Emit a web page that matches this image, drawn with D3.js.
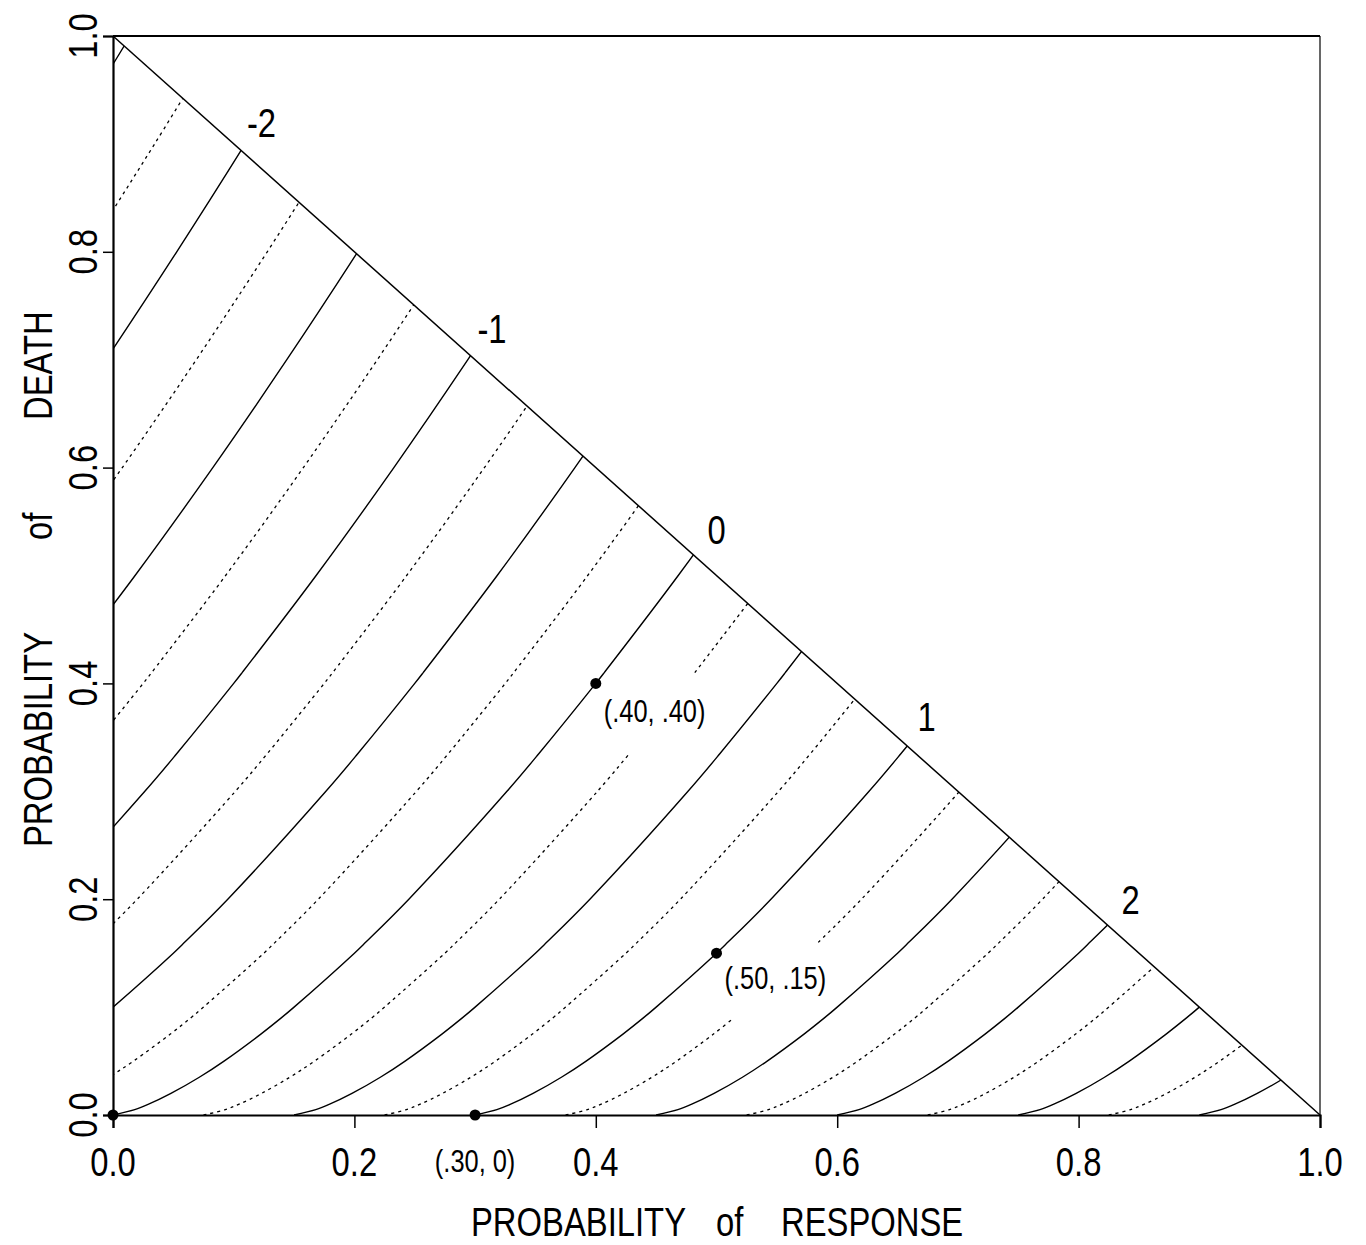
<!DOCTYPE html>
<html>
<head>
<meta charset="utf-8">
<script src="https://cdn.jsdelivr.net/npm/d3@7"></script>
<style>
  body { margin: 0; background: #fff; }
  svg { display: block; }
  text { font-family: "Liberation Sans", Arial, sans-serif; fill: #000; }
</style>
</head>
<body>
<svg width="1366" height="1245"></svg>
<script>
// every contour has the same shape, shifted sideways:
// at death prob shapeDeath[i] it sits shapeShift[i] to the right of where it meets pD = 0
var shapeDeath = [0, 0.005, 0.01, 0.02, 0.035, 0.05, 0.075, 0.09, 0.1, 0.15, 0.16, 0.2,
  0.3, 0.335, 0.4, 0.41, 0.5, 0.6, 0.7, 0.8, 0.9, 1.0];
var shapeShift = [0, 0.018, 0.0295, 0.048, 0.0715, 0.092, 0.1225, 0.1394, 0.150, 0.200, 0.2093, 0.2451,
  0.3264, 0.3529, 0.400, 0.407, 0.4683, 0.5327, 0.594, 0.6528, 0.7095, 0.7643];

// where each contour crosses pD = 0 (negative ones start off the left edge)
var solidStarts = [-0.75, -0.6, -0.45, -0.3, -0.15, 0, 0.15, 0.3, 0.45, 0.6, 0.75, 0.9];
var dottedStarts = [-0.675, -0.525, -0.375, -0.225, -0.075, 0.075, 0.225, 0.375, 0.525, 0.675, 0.825];
// two dotted contours are broken where the point labels sit
var dottedBreaks = [
  { start: 0.075, from: 0.335, to: 0.41 },
  { start: 0.375, from: 0.09, to: 0.16 }
];

var xTicks = [0, 0.2, 0.4, 0.6, 0.8, 1.0];
var yTicks = [0, 0.2, 0.4, 0.6, 0.8, 1.0];

// contour values written along the diagonal
var diagLabels = ["-2", "-1", "0", "1", "2"];
var diagLabelAt = [0.123, 0.314, 0.5, 0.674, 0.843];

// marked points
var pointResp = [0, 0.30, 0.40, 0.50];
var pointDeath = [0, 0, 0.40, 0.15];
var pointText = ["", "(.30, 0)", "(.40, .40)", "(.50, .15)"];

var svg = d3.select("svg");
var mLeft = 113, mRight = 1320, mTop = 36, mBottom = 1115;

var x = d3.scaleLinear().domain([0, 1]).range([mLeft, mRight]);
var y = d3.scaleLinear().domain([0, 1]).range([mBottom, mTop]);

// narrow type: Liberation Sans squeezed along the text direction
function label(str, px, py, size, rot, anchor) {
  return svg.append("text")
    .attr("transform", "translate(" + px + "," + py + ") rotate(" + (rot || 0) + ") scale(0.82,1)")
    .attr("font-size", size)
    .attr("text-anchor", anchor || "middle")
    .style("white-space", "pre")
    .text(str);
}

svg.append("clipPath").attr("id", "tri")
  .append("path")
  .attr("d", "M" + x(0) + "," + y(0) + "L" + x(1) + "," + y(0) + "L" + x(0) + "," + y(1) + "Z");

var line = d3.line()
  .x(function (d) { return x(d[0]); })
  .y(function (d) { return y(d[1]); })
  .curve(d3.curveCatmullRom.alpha(0.5));

function contourPoints(start) {
  return shapeDeath.map(function (pd, i) { return [start + shapeShift[i], pd]; });
}

var g = svg.append("g").attr("clip-path", "url(#tri)");

g.selectAll("path.solid")
  .data(solidStarts)
  .enter()
  .append("path")
  .attr("class", "solid")
  .attr("fill", "none")
  .attr("stroke", "#000")
  .attr("stroke-width", 1.4)
  .attr("d", function (s) { return line(contourPoints(s)); });

g.selectAll("path.dotted")
  .data(dottedStarts)
  .enter()
  .append("path")
  .attr("class", "dotted")
  .attr("fill", "none")
  .attr("stroke", "#000")
  .attr("stroke-width", 1.3)
  .attr("stroke-dasharray", "3,4")
  .attr("d", function (s) {
    var brk = dottedBreaks.find(function (b) { return b.start === s; });
    var ln = line.defined(function (d) {
      return !(brk && d[1] > brk.from && d[1] < brk.to);
    });
    var out = ln(contourPoints(s));
    line.defined(function () { return true; });
    return out;
  });

// diagonal
svg.append("line")
  .attr("x1", x(0)).attr("y1", y(1))
  .attr("x2", x(1)).attr("y2", y(0))
  .attr("stroke", "#000").attr("stroke-width", 1.5);

// frame
svg.append("line").attr("x1", mLeft).attr("x2", mRight).attr("y1", mTop).attr("y2", mTop)
  .attr("stroke", "#000").attr("stroke-width", 2);
svg.append("line").attr("x1", mRight).attr("x2", mRight).attr("y1", mTop).attr("y2", mBottom)
  .attr("stroke", "#000").attr("stroke-width", 1.2);

// axes
var xAxis = svg.append("g")
  .attr("transform", "translate(0," + mBottom + ")")
  .call(d3.axisBottom(x).tickValues(xTicks).tickSize(13).tickFormat(""));
var yAxis = svg.append("g")
  .attr("transform", "translate(" + mLeft + ",0)")
  .call(d3.axisLeft(y).tickValues(yTicks).tickSize(10).tickFormat(""));
[xAxis, yAxis].forEach(function (a) {
  a.select(".domain").attr("stroke", "#000").attr("stroke-width", 2.2);
  a.selectAll(".tick line").attr("stroke", "#000").attr("stroke-width", 1.5);
});

xTicks.forEach(function (t) {
  label(d3.format(".1f")(t), x(t), 1176, 40);
});
yTicks.forEach(function (t) {
  label(d3.format(".1f")(t), 97, y(t), 40, -90);
});

// axis titles
label("PROBABILITY", 471, 1236, 40, 0, "start");
label("of", 716, 1236, 40, 0, "start");
label("RESPONSE", 781, 1236, 40, 0, "start");

label("PROBABILITY", 52, 847, 40, -90, "start");
label("of", 52, 540, 40, -90, "start");
label("DEATH", 52, 420, 40, -90, "start");

// contour values along the diagonal
diagLabels.forEach(function (t, i) {
  var r = diagLabelAt[i];
  label(t, x(r), y(1 - r) - 32, 40);
});

// points
svg.selectAll("circle.pt")
  .data(pointResp)
  .enter()
  .append("circle")
  .attr("class", "pt")
  .attr("cx", function (d) { return x(d); })
  .attr("cy", function (d, i) { return y(pointDeath[i]); })
  .attr("r", 5.5)
  .attr("fill", "#000");

var ptLabelOffset = [[0, 0, "middle"], [0, 57, "middle"], [8, 39, "start"], [8, 36, "start"]];
pointText.forEach(function (t, i) {
  if (!t) return;
  var o = ptLabelOffset[i];
  label(t, x(pointResp[i]) + o[0], y(pointDeath[i]) + o[1], 31, 0, o[2]);
});
</script>
</body>
</html>
